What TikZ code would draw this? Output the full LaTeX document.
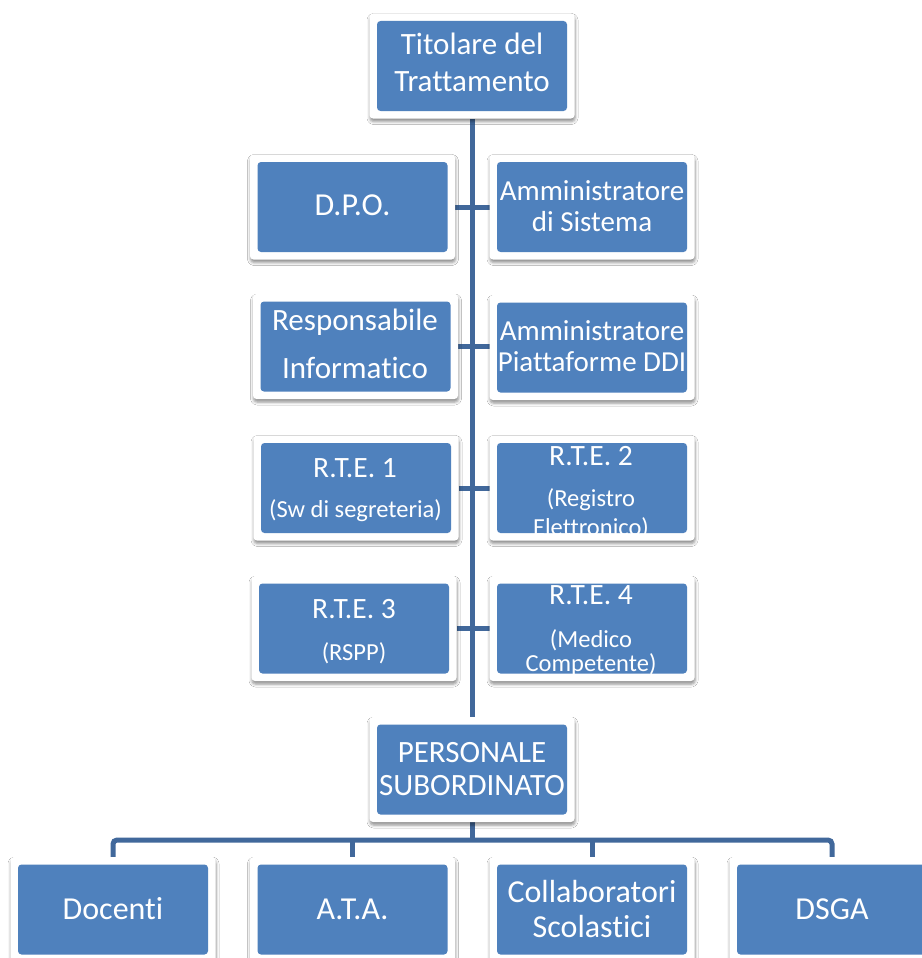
\documentclass[tikz,border=0pt]{standalone}
\usepackage{fontspec}
\setmainfont{Carlito}[Ligatures=NoCommon,RawFeature={-liga;-clig;-dlig}]
\usetikzlibrary{backgrounds,shadows.blur}
\definecolor{boxblue}{RGB}{79,129,189}
\definecolor{linkblue}{RGB}{65,104,155}
\newcommand{\fbig}{\fontsize{32}{38}\selectfont}
\newcommand{\fmain}{\fontsize{31}{37}\selectfont}
\newcommand{\fmid}{\fontsize{29.5}{35}\selectfont}
\newcommand{\fadm}{\fontsize{29}{34}\selectfont}
\newcommand{\fsub}{\fontsize{24.5}{29}\selectfont}
\tikzset{
  box/.style={rectangle, fill=white, rounded corners=3.5pt,
    minimum width=205pt, minimum height=105pt, inner sep=0pt, outer sep=0pt,
    blur shadow={shadow xshift=0.5pt, shadow yshift=-3pt, shadow blur radius=3pt, shadow opacity=45},
    path picture={\fill[boxblue] ([shift={(7.5pt,7.5pt)}]path picture bounding box.south west)
      rectangle ([shift={(-7.5pt,-7.5pt)}]path picture bounding box.north east);}},
  txt/.style={text=white, anchor=base, inner sep=0pt},
  link/.style={draw=linkblue, line width=5pt},
}
\begin{document}
\begin{tikzpicture}[x=1pt,y=-1pt]
\useasboundingbox (0,0) rectangle (921,958);
% boxes
\node[box] (top) at (472,66) {};
\node[box] (l1) at (352.5,207) {};
\node[box] (r1) at (592,207) {};
\node[box] (l2) at (355.5,346.5) {};
\node[box] (r2) at (592,347.5) {};
\node[box] (l3) at (356,488) {};
\node[box] (r3) at (592,488) {};
\node[box] (l4) at (354,628.5) {};
\node[box] (r4) at (592,628.5) {};
\node[box] (pers) at (472,769.5) {};
\node[box] (doc) at (113,909.5) {};
\node[box] (ata) at (352.5,909.5) {};
\node[box] (col) at (592,909.5) {};
\node[box] (dsga) at (832,909.5) {};
% texts
\node[txt, font=\fmain] (t0a) at (472,55) {Titolare del};
\node[txt, font=\fmain] (t0b) at (472,92) {Trattamento};
\node[txt, font=\fbig] (t1a) at (352.5,215) {D.P.O.};
\node[txt, font=\fadm] (t2a) at (592,200) {Amministratore};
\node[txt, font=\fadm] (t2b) at (592,231) {di Sistema};
\node[txt, font=\fmain] (t3a) at (355,330) {Responsabile};
\node[txt, font=\fmain] (t3b) at (355,378) {Informatico};
\node[txt, font=\fadm] (t4a) at (592,340) {Amministratore};
\node[txt, font=\fadm] (t4b) at (592,371) {Piattaforme DDI};
\node[txt, font=\fmid] (t5a) at (355,477) {R.T.E. 1};
\node[txt, font=\fsub] (t5b) at (355.5,517) {(Sw di segreteria)};
\node[txt, font=\fmid] (t6a) at (591,465) {R.T.E. 2};
\node[txt, font=\fsub] (t6b) at (591,506) {(Registro};
\node[txt, font=\fsub] (t6c) at (591,535.5) {Elettronico)};
\node[txt, font=\fmid] (t7a) at (354,618.5) {R.T.E. 3};
\node[txt, font=\fsub] (t7b) at (354,660) {(RSPP)};
\node[txt, font=\fmid] (t8a) at (591,604.5) {R.T.E. 4};
\node[txt, font=\fsub] (t8b) at (591,647) {(Medico};
\node[txt, font=\fsub] (t8c) at (591,671) {Competente)};
\node[txt, font=\fmain] (t9a) at (472,762) {PERSONALE};
\node[txt, font=\fmain] (t9b) at (472,795) {SUBORDINATO};
\node[txt, font=\fbig] (t10) at (113,919) {Docenti};
\node[txt, font=\fbig] (t11) at (352.5,919) {A.T.A.};
\node[txt, font=\fbig] (t12a) at (592,902) {Collaboratori};
\node[txt, font=\fbig] (t12b) at (592,937) {Scolastici};
\node[txt, font=\fbig] (t13) at (832,919) {DSGA};
% connectors
\coordinate (bus) at (472,840);
\begin{pgfonlayer}{background}
\fill[white] (0,0) rectangle (921,958);
\draw[link] (top.south) -- (pers.north);
\draw[link] (l1.east) -- (l1.east -| r1.west);
\draw[link] (l2.east) -- (l2.east -| r2.west);
\draw[link] (l3.east) -- (l3.east -| r3.west);
\draw[link] (l4.east) -- (l4.east -| r4.west);
\draw[link] (pers.south) -- (bus);
\draw[link, rounded corners=4pt] (doc.north) |- (bus) -| (dsga.north);
\draw[link] (ata.north) -- (ata.north |- bus);
\draw[link] (col.north) -- (col.north |- bus);
\end{pgfonlayer}
\end{tikzpicture}
\end{document}
